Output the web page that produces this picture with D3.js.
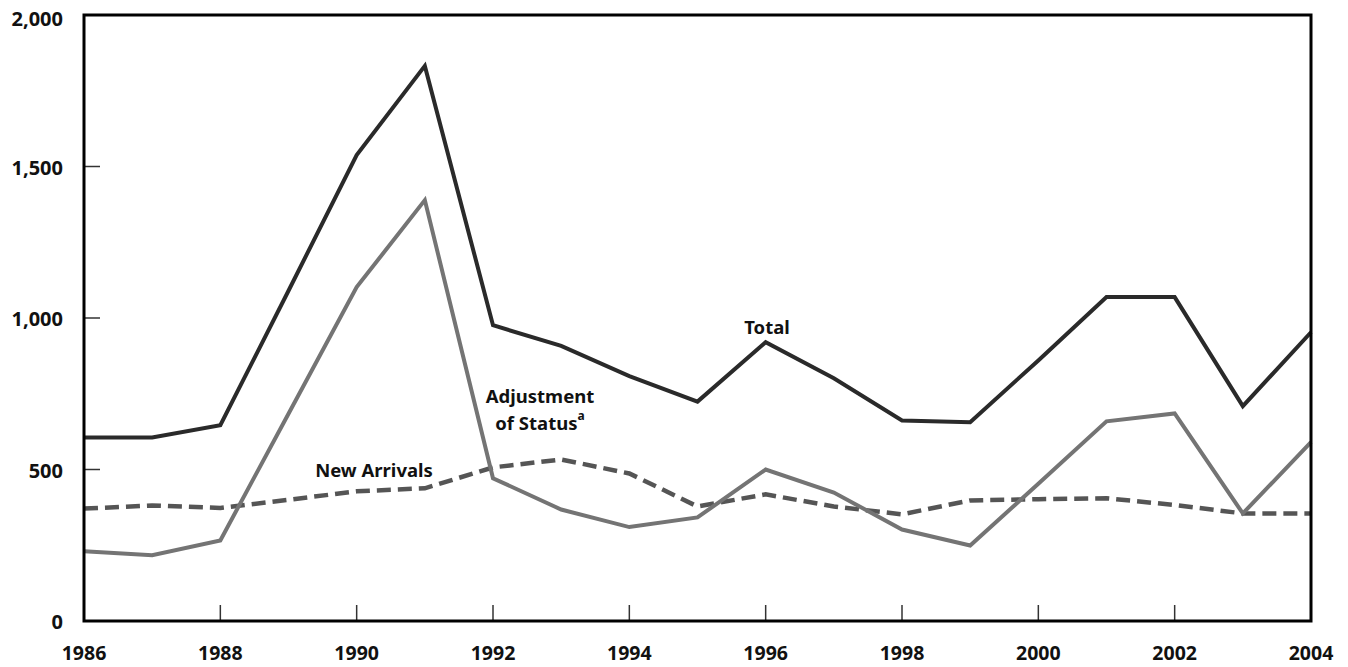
<!DOCTYPE html>
<html lang="en">
<head>
    <meta charset="utf-8">
    <title>Chart</title>
    <script src="https://d3js.org/d3.v7.min.js" charset="utf-8"></script>
    <style type="text/css">
        body { margin: 0; background: #fff; }
        text { font-family: 'Noto Sans', sans-serif; font-weight: bold; fill: #111; }
    </style>
</head>
<body>
    <script type="text/javascript">
        var years = [1986, 1987, 1988, 1989, 1990, 1991, 1992, 1993, 1994, 1995,
                     1996, 1997, 1998, 1999, 2000, 2001, 2002, 2003, 2004];
        var total = [606, 606, 646, 1090, 1538, 1832, 976, 908, 808, 724,
                     920, 801, 662, 656, 860, 1069, 1069, 709, 953];
        var adjustment = [230, 217, 266, 684, 1102, 1389, 471, 368, 310, 342,
                          500, 424, 302, 249, 453, 659, 685, 355, 590];
        var newArrivals = [371, 381, 373, 400, 428, 438, 507, 533, 487, 378,
                           418, 378, 352, 398, 402, 405, 383, 355, 355];
        var xTicks = [1986, 1988, 1990, 1992, 1994, 1996, 1998, 2000, 2002, 2004];
        var yTicks = [0, 500, 1000, 1500, 2000];

        var width = 1348, height = 667;
        var plotLeft = 84, plotRight = 1311, plotTop = 15, plotBottom = 621;

        var svg = d3.select("body").append("svg")
                    .attr("width", width)
                    .attr("height", height);

        var x = d3.scaleLinear().domain([1986, 2004]).range([plotLeft, plotRight]);
        var y = d3.scaleLinear().domain([0, 2000]).range([plotBottom, plotTop]);

        // inner tick marks
        svg.selectAll("line.xt")
            .data(xTicks.slice(1, -1))
            .enter().append("line")
            .attr("x1", d => x(d)).attr("x2", d => x(d))
            .attr("y1", plotBottom).attr("y2", plotBottom - 16)
            .attr("stroke", "#333").attr("stroke-width", 1.5);

        svg.selectAll("line.yt")
            .data(yTicks.slice(1, -1))
            .enter().append("line")
            .attr("x1", plotLeft).attr("x2", plotLeft + 16)
            .attr("y1", d => y(d)).attr("y2", d => y(d))
            .attr("stroke", "#333").attr("stroke-width", 1.5);

        // tick labels
        svg.selectAll("text.xl")
            .data(xTicks)
            .enter().append("text")
            .attr("x", d => x(d))
            .attr("y", 660)
            .attr("text-anchor", "middle")
            .attr("font-size", "19.5px")
            .text(d => d);

        svg.selectAll("text.yl")
            .data(yTicks)
            .enter().append("text")
            .attr("x", 63)
            .attr("y", d => y(d) + (d === 2000 ? 11 : 8))
            .attr("text-anchor", "end")
            .attr("font-size", "20px")
            .text(d => d3.format(",")(d));

        var line = d3.line()
            .x((d, i) => x(years[i]))
            .y(d => y(d));

        svg.append("path")
            .attr("d", line(newArrivals))
            .attr("fill", "none")
            .attr("stroke", "#555")
            .attr("stroke-width", 4.5)
            .attr("stroke-dasharray", "14,7");

        svg.append("path")
            .attr("d", line(adjustment))
            .attr("fill", "none")
            .attr("stroke", "#747474")
            .attr("stroke-width", 4)
            .attr("stroke-linejoin", "miter");

        svg.append("path")
            .attr("d", line(total))
            .attr("fill", "none")
            .attr("stroke", "#2a2a2a")
            .attr("stroke-width", 4)
            .attr("stroke-linejoin", "miter");

        // frame
        svg.append("path")
            .attr("d", "M" + plotLeft + "," + plotBottom + "V" + plotTop + "H" + plotRight + "V" + plotBottom + "Z")
            .attr("fill", "none")
            .attr("stroke", "#000")
            .attr("stroke-width", 3);

        // series labels
        svg.append("text")
            .attr("x", 767).attr("y", 334)
            .attr("text-anchor", "middle")
            .attr("font-size", "18.5px")
            .text("Total");

        svg.append("text")
            .attr("x", 540).attr("y", 403)
            .attr("text-anchor", "middle")
            .attr("font-size", "18.5px")
            .text("Adjustment");

        var st = svg.append("text")
            .attr("x", 540).attr("y", 430)
            .attr("text-anchor", "middle")
            .attr("font-size", "18.5px");
        st.append("tspan").text("of Status");
        st.append("tspan").attr("dy", -10).attr("font-size", "12px").text("a");

        svg.append("text")
            .attr("x", 374).attr("y", 477)
            .attr("text-anchor", "middle")
            .attr("font-size", "18.5px")
            .text("New Arrivals");
    </script>
</body>
</html>
